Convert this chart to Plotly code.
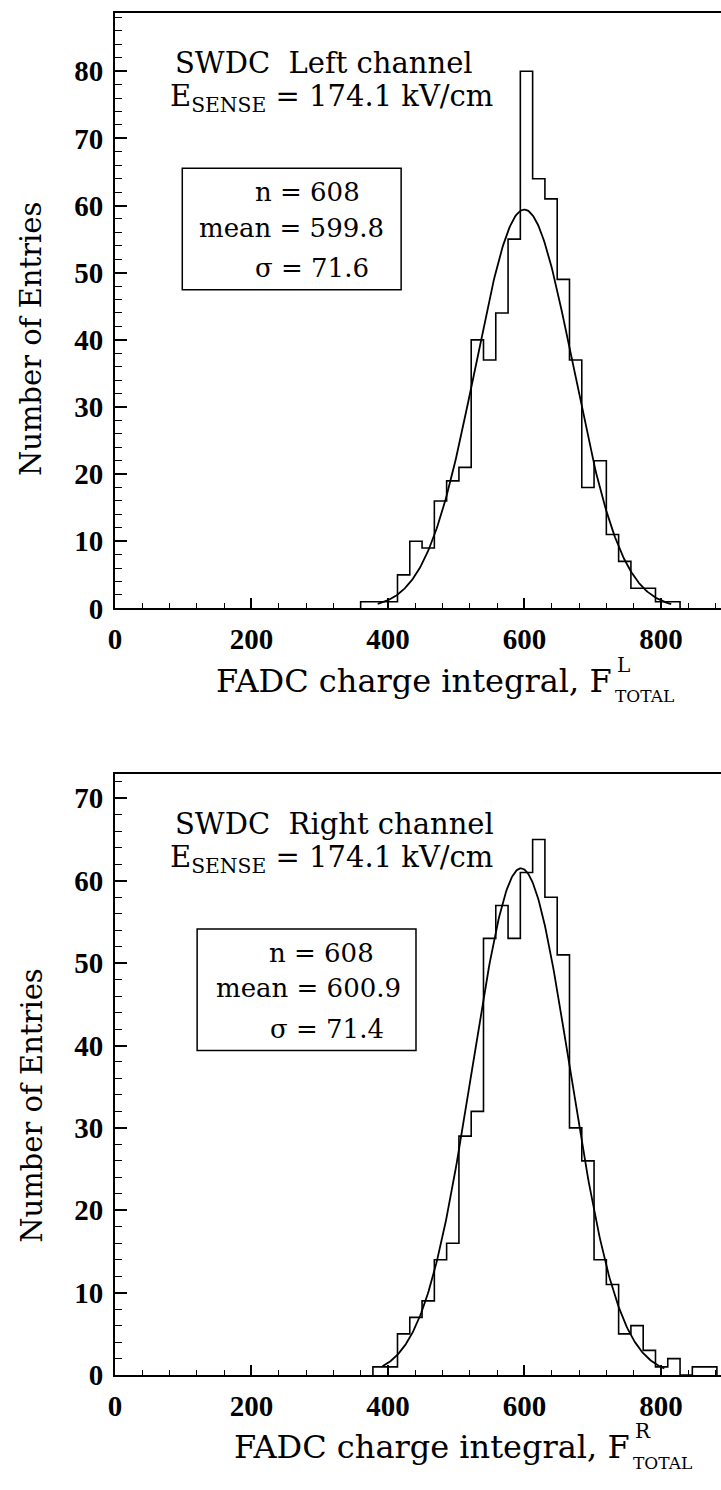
import numpy as np
import plotly.graph_objects as go

W, H = 721, 1490

# ---------------- data ----------------
bin_width = 18
# top panel: left channel, histogram bins start at these lower edges
left_bin_lo = [360, 378, 396, 414, 432, 450, 468, 486, 504, 522, 540, 558, 576,
               594, 612, 630, 648, 666, 684, 702, 720, 738, 756, 774, 792, 810]
left_counts = [1, 1, 1, 5, 10, 9, 16, 19, 21, 40, 37, 44, 55,
               80, 64, 61, 49, 37, 18, 22, 11, 7, 3, 3, 1, 1]
# bottom panel: right channel
right_bin_lo = [378, 396, 414, 432, 450, 468, 486, 504, 522, 540, 558, 576, 594,
                612, 630, 648, 666, 684, 702, 720, 738, 756, 774, 792, 810, 828, 846, 864]
right_counts = [1, 1, 5, 7, 9, 14, 16, 29, 32, 53, 57, 53, 61,
                65, 58, 51, 30, 26, 14, 11, 5, 6, 3, 1, 2, 0, 1, 1]

# Gaussian fits (mean, sigma, amplitude, drawn range)
left_fit = dict(mu=599.8, sigma=71.6, amp=59.4, lo=385, hi=815)
right_fit = dict(mu=595.0, sigma=71.4, amp=61.5, lo=392, hi=805)

left_stats = ["n = 608", "mean = 599.8", "σ = 71.6"]
right_stats = ["n = 608", "mean = 600.9", "σ = 71.4"]

x_ticks = [0, 200, 400, 600, 800]
x_range = [0, 888]
top_y_range = [0, 88.7]
bot_y_range = [0, 73.0]

# ---------------- helpers ----------------
def px(x):
    return x / W

def py(y):
    return 1 - y / H

def step_xy(lo, counts):
    edges = list(lo) + [lo[-1] + bin_width]
    xs = [edges[0]] + edges
    ys = [0] + list(counts) + [0]
    return xs, ys

def gauss(fit):
    x = np.linspace(fit["lo"], fit["hi"], 300)
    y = fit["amp"] * np.exp(-0.5 * ((x - fit["mu"]) / fit["sigma"]) ** 2)
    return x, y

fig = go.Figure()

for xa, ya, lo, cnt, fit in [("x", "y", left_bin_lo, left_counts, left_fit),
                             ("x2", "y2", right_bin_lo, right_counts, right_fit)]:
    xs, ys = step_xy(lo, cnt)
    fig.add_trace(go.Scatter(x=xs, y=ys, mode="lines", line=dict(shape="hv", color="black", width=1.6),
                             xaxis=xa, yaxis=ya, hoverinfo="skip"))
    gx, gy = gauss(fit)
    fig.add_trace(go.Scatter(x=gx, y=gy, mode="lines", line=dict(color="black", width=1.8),
                             xaxis=xa, yaxis=ya, hoverinfo="skip"))

tickfont = dict(family="Liberation Serif", size=29, color="black", weight="bold")

def xaxis_cfg(anchor):
    return dict(domain=[px(109), 1], range=x_range, anchor=anchor,
                tickmode="array", tickvals=x_ticks, ticktext=[str(v) for v in x_ticks],
                ticks="inside", ticklen=10, tickwidth=1.5, tickcolor="black",
                minor=dict(dtick=40, tick0=0, ticks="inside", ticklen=5, tickwidth=1.3, tickcolor="black"),
                showline=True, linewidth=2, linecolor="black", mirror=True,
                showgrid=False, zeroline=False, tickfont=tickfont, ticklabelstandoff=4)

def yaxis_cfg(anchor, dom, rng):
    return dict(domain=dom, range=rng, anchor=anchor,
                dtick=10, tick0=0,
                ticks="inside", ticklen=12, tickwidth=1.5, tickcolor="black",
                minor=dict(dtick=2, tick0=0, ticks="inside", ticklen=7, tickwidth=1.3, tickcolor="black"),
                showline=True, linewidth=2, linecolor="black", mirror=False,
                showgrid=False, zeroline=False, tickfont=tickfont, ticklabelstandoff=4)

fig.update_layout(
    width=W, height=H, margin=dict(l=0, r=0, t=0, b=0),
    paper_bgcolor="white", plot_bgcolor="white", showlegend=False,
    xaxis=xaxis_cfg("y"), yaxis=yaxis_cfg("x", [py(615), py(13)], top_y_range),
    xaxis2=xaxis_cfg("y2"), yaxis2=yaxis_cfg("x2", [py(1390), py(782)], bot_y_range),
)

txt = dict(family="DejaVu Serif", size=29, color="black")
ttl = dict(family="DejaVu Serif", size=32, color="black")
boxtxt = dict(family="DejaVu Serif", size=26, color="black")
ann = []

def add_text(text, x, y, font, xanchor="left", yanchor="middle", angle=0):
    ann.append(dict(text=text, x=px(x), y=py(y), xref="paper", yref="paper",
                    xanchor=xanchor, yanchor=yanchor, showarrow=False, font=font,
                    textangle=angle))

panels = [
    dict(off=0, zero=615, chan="SWDC  Left channel", stats=left_stats,
         box=(177, 398), srx=[358, 383, 368], sup="L", tx=613),
    dict(off=769, zero=1390, chan="SWDC  Right channel", stats=right_stats,
         box=(192, 413), srx=[373, 400, 383], sup="R", tx=631),
]
for p in panels:
    o = p["off"]
    add_text(p["chan"], 168, 64 + o, txt)
    add_text("E<sub>SENSE</sub> = 174.1 kV/cm", 163, 99 + o, txt)
    fig.add_shape(type="rect", xref="paper", yref="paper",
                  x0=px(p["box"][0]), x1=px(p["box"][1]), y0=py(170 + o), y1=py(293 + o),
                  line=dict(color="black", width=1.5))
    for s, xr, yy in zip(p["stats"], p["srx"], [194, 230, 271]):
        add_text(s, xr, yy + o, boxtxt, xanchor="right")
    z = p["zero"]
    add_text("FADC charge integral, F", p["tx"], z + 73, ttl, xanchor="right")
    add_text(p["sup"], p["tx"] + 1, z + 57, dict(family="DejaVu Serif", size=20, color="black"))
    add_text("TOTAL", p["tx"] - 1, z + 89, dict(family="DejaVu Serif", size=17, color="black"))
    add_text("Number of Entries", 25, z - 272, dict(family="DejaVu Serif", size=29, color="black"),
             xanchor="center", angle=-90)

fig.update_layout(annotations=ann)
fig.write_html("out.html")
